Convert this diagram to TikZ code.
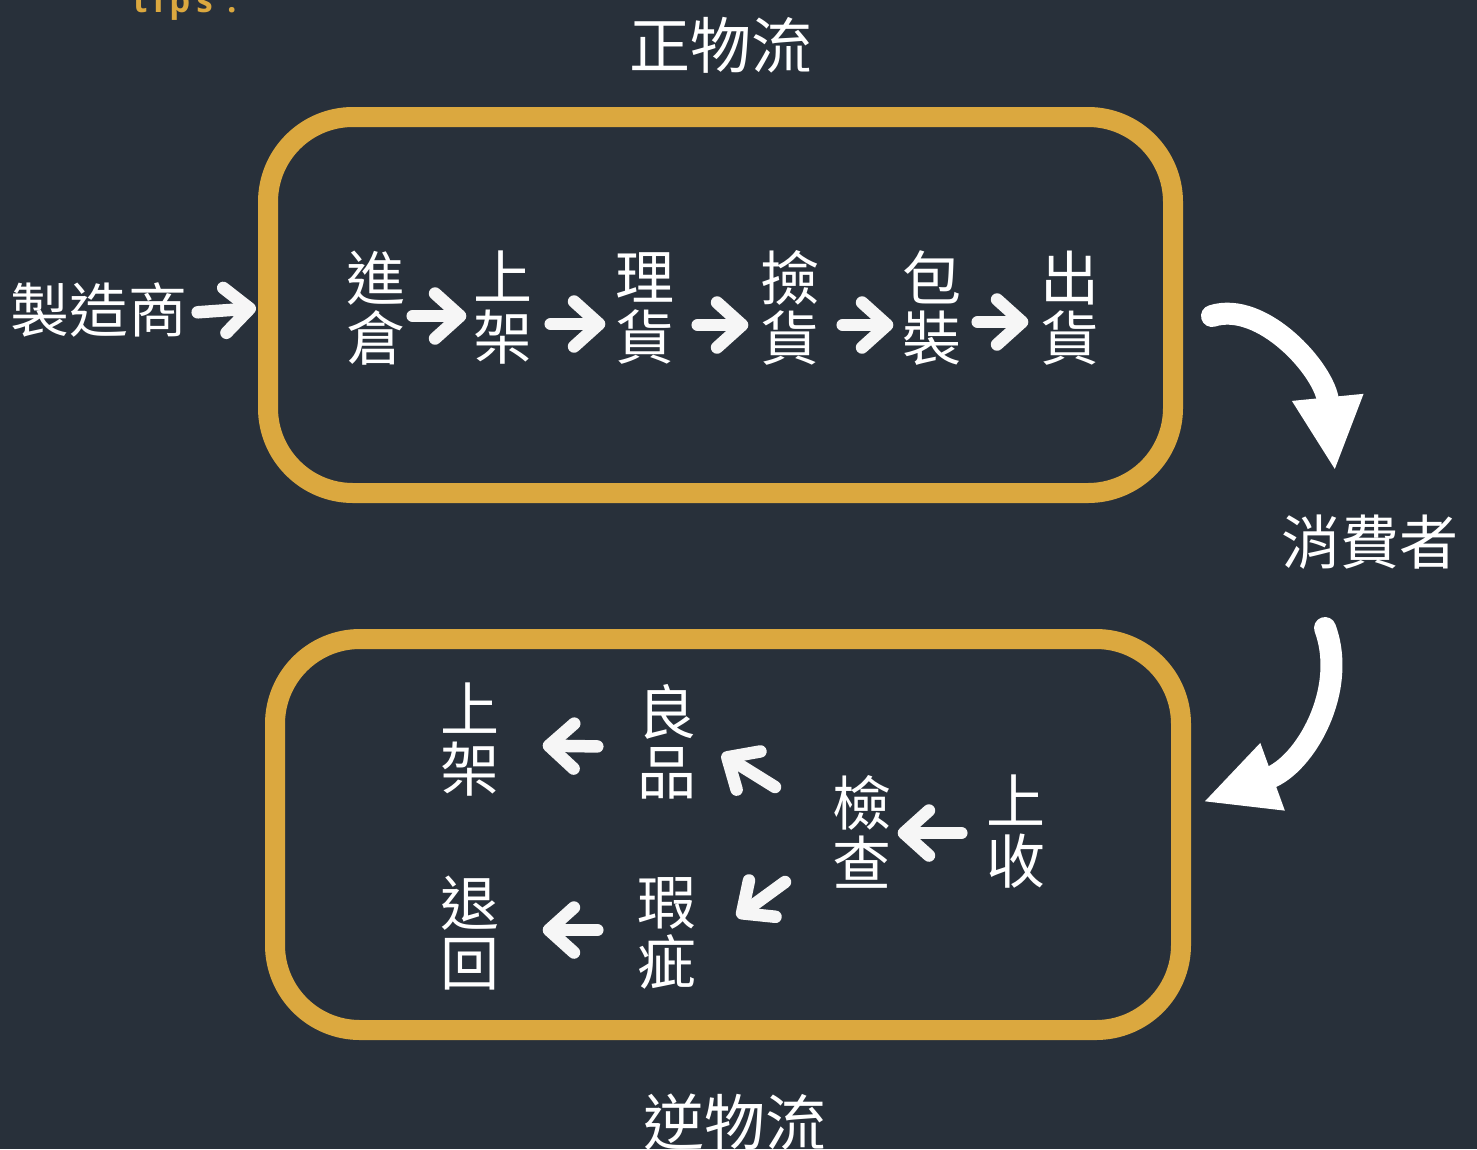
\documentclass[tikz,border=0pt]{standalone}
\usepackage{fontspec}
\newfontfamily\cjk{Noto Sans CJK TC}
\newfontfamily\tipsfont[LetterSpace=18]{Open Sans}
\usetikzlibrary{arrows.meta}
\definecolor{bg}{HTML}{28303A}
\definecolor{gold}{HTML}{DBA83F}
\definecolor{wh}{HTML}{F6F6F6}
\begin{document}
\begin{tikzpicture}[x=1pt,y=-1pt,
  lbl/.style={font=\cjk\fontsize{59}{60}\selectfont, text=white, align=center, inner sep=0pt},
  ttl/.style={font=\cjk\fontsize{61}{62}\selectfont, text=white, inner sep=0pt},
  flow/.style={draw=wh, line width=12.5pt, line cap=round, -{Straight Barb[length=25pt,width=45pt,round]}},
  box/.style={draw=gold, line width=20pt, rounded corners=85pt, inner sep=0pt},
  curvearrow/.style={draw=white, line width=22pt, line cap=round, -{Triangle[length=74pt,width=66pt]}}]
\fill[bg] (0,0) rectangle (1477,1149);
\useasboundingbox (0,0) rectangle (1477,1149);
% tips
\node[anchor=base west, text=gold, inner sep=0pt, font=\tipsfont\bfseries\fontsize{33}{33}\selectfont] (tips) at (133,12) {tips :};
% titles
\node[ttl] (t1) at (721,45) {正物流};
\node[ttl] (t2) at (735,1122) {逆物流};
% boxes
\node[box, minimum width=905pt, minimum height=376pt] (topbox) at (720.5,305) {};
\node[box, minimum width=906pt, minimum height=391pt] (botbox) at (728,834.5) {};
% top row
\node[lbl] (maker) at (99,310) {製造商};
\node[lbl] (a1) at (376,308) {進\\倉};
\node[lbl] (a2) at (503,308) {上\\架};
\node[lbl] (a3) at (645,308) {理\\貨};
\node[lbl] (a4) at (790,308) {撿\\貨};
\node[lbl] (a5) at (932,308) {包\\裝};
\node[lbl] (a6) at (1070,308) {出\\貨};
\node[lbl] (cons) at (1370,542) {消費者};
\draw[flow, shorten <=10pt, shorten >=2pt] ([yshift=-3pt]maker.east) -- ([yshift=-3pt]topbox.west);
\draw[flow, shorten <=7pt, shorten >=7pt] ([yshift=-8pt]a1.east) -- ([yshift=-8pt]a2.west);
\draw[flow, shorten <=18pt, shorten >=10pt] ([yshift=-16pt]a2.east) -- ([yshift=-16pt]a3.west);
\draw[flow, shorten <=23pt, shorten >=12pt] ([yshift=-17pt]a3.east) -- ([yshift=-17pt]a4.west);
\draw[flow, shorten <=23pt, shorten >=9pt] ([yshift=-17pt]a4.east) -- ([yshift=-17pt]a5.west);
\draw[flow, shorten <=16pt, shorten >=12pt] ([yshift=-14pt]a5.east) -- ([yshift=-14pt]a6.west);
% curved arrows
\coordinate (c1s) at (1212,316);
\coordinate (c1e) at (1335,471);
\draw[curvearrow] (c1s) .. controls (1262,300) and (1325,370) .. (c1e);
\coordinate (c2s) at (1325,628);
\coordinate (c2e) at (1203,802);
\draw[curvearrow] (c2s) .. controls (1348,690) and (1305,765) .. (c2e);
% bottom
\node[lbl] (b1) at (470,740) {上\\架};
\node[lbl] (b2) at (667,742) {良\\品};
\node[lbl] (b3) at (862,832) {檢\\查};
\node[lbl] (b4) at (1016,832) {上\\收};
\node[lbl] (b5) at (470,933) {退\\回};
\node[lbl] (b6) at (667,933) {瑕\\疵};
\draw[flow, shorten <=25pt, shorten >=6pt] ([yshift=-1pt]b4.west) -- ([yshift=-1pt]b3.east);
\draw[flow, shorten <=40pt, shorten >=43pt] ([yshift=-5pt]b2.west) -- ([yshift=-5pt]b1.east);
\draw[flow, shorten <=40pt, shorten >=43pt] ([yshift=3pt]b6.west) -- ([yshift=3pt]b5.east);
\coordinate (d1s) at (775,787);
\coordinate (d1e) at (722,754);
\draw[flow] (d1s) -- (d1e);
\coordinate (d2s) at (785,882);
\coordinate (d2e) at (737,917);
\draw[flow] (d2s) -- (d2e);
\end{tikzpicture}
\end{document}
